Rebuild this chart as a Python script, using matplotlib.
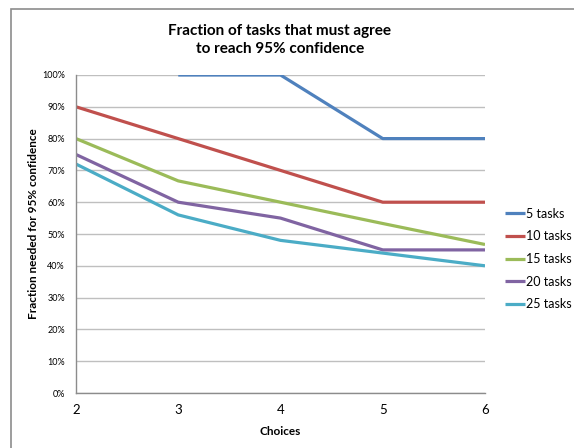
import matplotlib.pyplot as plt
import numpy as np
from matplotlib.patches import Rectangle
from matplotlib.ticker import PercentFormatter

choices = [2, 3, 4, 5, 6]
series_labels = ['5 tasks', '10 tasks', '15 tasks', '20 tasks', '25 tasks']
tasks_5 = [np.nan, 1.00, 1.00, 0.80, 0.80]
tasks_10 = [0.90, 0.80, 0.70, 0.60, 0.60]
tasks_15 = [0.80, 0.667, 0.60, 0.533, 0.467]
tasks_20 = [0.75, 0.60, 0.55, 0.45, 0.45]
tasks_25 = [0.72, 0.56, 0.48, 0.44, 0.40]
colors = ['#4F81BD', '#C0504D', '#9BBB59', '#8064A2', '#4BACC6']

plt.rcParams['font.family'] = ['Lato', 'DejaVu Sans']

fig = plt.figure(figsize=(5.74, 4.48), dpi=100)

# chart area border (runs off right and bottom edges)
fig.patches.append(Rectangle((11 / 574, -0.1), 1.2, 1 - 9 / 448 + 0.1,
                             transform=fig.transFigure, fill=False,
                             edgecolor='#8C8C8C', lw=1.2))

ax = fig.add_axes([76 / 574, 55 / 448, 409 / 574, 318 / 448])

for vals, lab, col in zip([tasks_5, tasks_10, tasks_15, tasks_20, tasks_25],
                          series_labels, colors):
    ax.plot(choices, vals, color=col, lw=2.3, label=lab, solid_capstyle='butt')

ax.set_xlim(2, 6)
ax.set_ylim(0, 1.0)
ax.set_xticks(choices)
ax.set_yticks(np.arange(0, 1.01, 0.1))
ax.yaxis.set_major_formatter(PercentFormatter(1.0, decimals=0))
ax.tick_params(axis='y', labelsize=6.5, length=0, pad=8, colors='#000000')
ax.tick_params(axis='x', labelsize=9.5, length=0, pad=8)
ax.grid(axis='y', color='#BFBFBF', lw=1)
ax.set_axisbelow(True)
for s in ['top', 'right']:
    ax.spines[s].set_visible(False)
for s in ['left', 'bottom']:
    ax.spines[s].set_color('#8C8C8C')
    ax.spines[s].set_linewidth(1)

ax.set_xlabel('Choices', fontsize=8.5, fontweight='bold', labelpad=7)
ax.yaxis.set_label_coords(34 / 574, 1 - 238 / 448, transform=fig.transFigure)
ax.set_ylabel('Fraction needed for 95% confidence', fontsize=8.5, fontweight='bold',
              va='center')
fig.text(280 / 574, 1 - 40 / 448, 'Fraction of tasks that must agree\nto reach 95% confidence',
         ha='center', va='center', fontsize=11, fontweight='bold', linespacing=1.4)

ax.legend(loc='center left', bbox_to_anchor=(505 / 574, 1 - 259 / 448),
          bbox_transform=fig.transFigure, frameon=False, fontsize=9,
          handlelength=1.6, handletextpad=0.1, labelspacing=0.85, borderaxespad=0,
          borderpad=0)

fig.savefig('out.png', dpi=100)
